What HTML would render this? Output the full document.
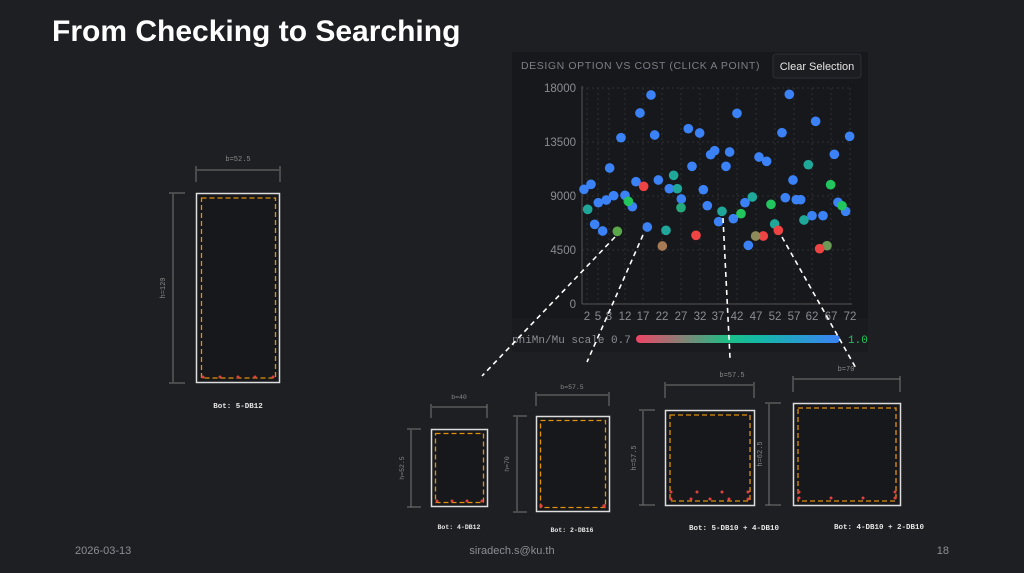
<!DOCTYPE html>
<html><head><meta charset="utf-8"><style>
html,body{margin:0;padding:0;background:#1d1f23;}
body{width:1024px;height:573px;overflow:hidden;position:relative;font-family:"Liberation Sans",sans-serif;}
svg{position:absolute;left:0;top:0;}
</style></head><body>
<svg width="1024" height="573" viewBox="0 0 1024 573" xmlns="http://www.w3.org/2000/svg">
<rect width="1024" height="573" fill="#1d1f23"/>
<text x="52" y="41" fill="#ffffff" font-size="30" font-weight="bold" font-family="Liberation Sans, sans-serif">From Checking to Searching</text>

<rect x="512" y="52" width="356" height="266" fill="#17181c"/>
<rect x="512" y="318" width="356" height="34" fill="#1a1b1f"/>
<text x="521" y="69" fill="#7d7f86" font-size="10.5" letter-spacing="0.6">DESIGN OPTION VS COST (CLICK A POINT)</text>
<rect x="773" y="54" width="88" height="24" rx="3" fill="#1c1d21" stroke="#2c2e33"/>
<text x="817" y="70" fill="#e6e6e6" font-size="11" text-anchor="middle">Clear Selection</text>

<g stroke="#2e3035" stroke-dasharray="2,3" stroke-width="1">
<line x1="582" y1="88" x2="850" y2="88"/><line x1="582" y1="142" x2="850" y2="142"/><line x1="582" y1="196" x2="850" y2="196"/><line x1="582" y1="250" x2="850" y2="250"/>
<line x1="587" y1="88" x2="587" y2="304"/><line x1="598" y1="88" x2="598" y2="304"/><line x1="609" y1="88" x2="609" y2="304"/><line x1="625" y1="88" x2="625" y2="304"/><line x1="643" y1="88" x2="643" y2="304"/><line x1="662" y1="88" x2="662" y2="304"/><line x1="681" y1="88" x2="681" y2="304"/><line x1="700" y1="88" x2="700" y2="304"/><line x1="718" y1="88" x2="718" y2="304"/><line x1="737" y1="88" x2="737" y2="304"/><line x1="756" y1="88" x2="756" y2="304"/><line x1="775" y1="88" x2="775" y2="304"/><line x1="794" y1="88" x2="794" y2="304"/><line x1="812" y1="88" x2="812" y2="304"/><line x1="831" y1="88" x2="831" y2="304"/><line x1="850" y1="88" x2="850" y2="304"/>
</g>
<line x1="582" y1="86" x2="582" y2="304" stroke="#555" />
<line x1="582" y1="304" x2="852" y2="304" stroke="#555" />
<g fill="#8a8c92" font-size="11.5" text-anchor="end">
<text x="576" y="92">18000</text><text x="576" y="146">13500</text><text x="576" y="200">9000</text><text x="576" y="254">4500</text><text x="576" y="308">0</text>
</g>
<g fill="#8a8c92" font-size="11.5" text-anchor="middle">
<text x="587" y="320">2</text><text x="598" y="320">5</text><text x="609" y="320">8</text><text x="625" y="320">12</text><text x="643" y="320">17</text><text x="662" y="320">22</text><text x="681" y="320">27</text><text x="700" y="320">32</text><text x="718" y="320">37</text><text x="737" y="320">42</text><text x="756" y="320">47</text><text x="775" y="320">52</text><text x="794" y="320">57</text><text x="812" y="320">62</text><text x="831" y="320">67</text><text x="850" y="320">72</text>
</g>

<g transform="translate(510,50) scale(0.3333)">
<g fill="#3b82f6">
<circle cx="222" cy="418" r="14.5"/><circle cx="243" cy="403" r="14.5"/><circle cx="265" cy="458" r="14.5"/><circle cx="254" cy="523" r="14.5"/><circle cx="278" cy="543" r="14.5"/><circle cx="289" cy="450" r="14.5"/><circle cx="299" cy="354" r="14.5"/><circle cx="311" cy="437" r="14.5"/><circle cx="333" cy="263" r="14.5"/><circle cx="345" cy="436" r="14.5"/><circle cx="367" cy="470" r="14.5"/><circle cx="378" cy="395" r="14.5"/><circle cx="390" cy="189" r="14.5"/><circle cx="412" cy="531" r="14.5"/><circle cx="423" cy="135" r="14.5"/><circle cx="434" cy="255" r="14.5"/><circle cx="445" cy="390" r="14.5"/><circle cx="478" cy="416" r="14.5"/><circle cx="514" cy="447" r="14.5"/><circle cx="535" cy="236" r="14.5"/><circle cx="546" cy="349" r="14.5"/><circle cx="569" cy="249" r="14.5"/><circle cx="580" cy="419" r="14.5"/><circle cx="592" cy="467" r="14.5"/><circle cx="602" cy="314" r="14.5"/><circle cx="614" cy="302" r="14.5"/><circle cx="626" cy="515" r="14.5"/><circle cx="648" cy="349" r="14.5"/><circle cx="659" cy="306" r="14.5"/><circle cx="670" cy="506" r="14.5"/><circle cx="681" cy="190" r="14.5"/><circle cx="705" cy="458" r="14.5"/><circle cx="715" cy="586" r="14.5"/><circle cx="747" cy="321" r="14.5"/><circle cx="770" cy="334" r="14.5"/><circle cx="816" cy="248" r="14.5"/><circle cx="826" cy="443" r="14.5"/><circle cx="849" cy="390" r="14.5"/><circle cx="859" cy="449" r="14.5"/><circle cx="872" cy="449" r="14.5"/><circle cx="906" cy="497" r="14.5"/><circle cx="917" cy="214" r="14.5"/><circle cx="939" cy="497" r="14.5"/><circle cx="973" cy="313" r="14.5"/><circle cx="984" cy="457" r="14.5"/><circle cx="1007" cy="484" r="14.5"/><circle cx="1019" cy="259" r="14.5"/><circle cx="838" cy="133" r="14.5"/>
</g>
<g fill="#1fa89a">
<circle cx="233" cy="478" r="14.5"/><circle cx="491" cy="376" r="14.5"/><circle cx="502" cy="416" r="14.5"/><circle cx="468" cy="541" r="14.5"/><circle cx="636" cy="484" r="14.5"/><circle cx="727" cy="441" r="14.5"/><circle cx="794" cy="522" r="14.5"/><circle cx="882" cy="510" r="14.5"/><circle cx="895" cy="344" r="14.5"/>
</g>
<circle cx="513" cy="473" r="14.5" fill="#25a87a"/>
<g fill="#22c55e">
<circle cx="355" cy="454" r="14.5"/><circle cx="693" cy="491" r="14.5"/><circle cx="783" cy="463" r="14.5"/><circle cx="962" cy="404" r="14.5"/><circle cx="996" cy="467" r="14.5"/>
</g>
<circle cx="322" cy="544" r="14.5" fill="#5aa84a"/><circle cx="951" cy="587" r="14.5" fill="#6a9a55"/>
<g fill="#ef4444">
<circle cx="401" cy="409" r="14.5"/><circle cx="558" cy="556" r="14.5"/><circle cx="760" cy="558" r="14.5"/><circle cx="805" cy="541" r="14.5"/><circle cx="929" cy="596" r="14.5"/>
</g>
<circle cx="457" cy="588" r="14.5" fill="#a57a55"/><circle cx="737" cy="558" r="14.5" fill="#8f8a5a"/>
</g>

<defs><linearGradient id="cg" x1="0" x2="1"><stop offset="0" stop-color="#ef4466"/><stop offset="0.45" stop-color="#1dbf86"/><stop offset="0.6" stop-color="#14b8a6"/><stop offset="1" stop-color="#3b82f6"/></linearGradient></defs>
<text x="512" y="343" fill="#8a8c92" font-size="11" font-family="Liberation Mono, monospace">phiMn/Mu scale 0.7</text>
<rect x="636" y="335" width="204" height="8" rx="4" fill="url(#cg)"/>
<text x="848" y="343" fill="#22c55e" font-size="11" font-family="Liberation Mono, monospace">1.0</text>

<g stroke="#ffffff" stroke-width="1.6" stroke-dasharray="5,4" fill="none">
<line x1="615" y1="237" x2="482" y2="376"/>
<line x1="643" y1="235" x2="587" y2="362"/>
<line x1="723" y1="218" x2="730" y2="358"/>
<line x1="782" y1="237" x2="857" y2="370"/>
</g>

<g font-family="Liberation Mono, monospace">
<g stroke="#777" stroke-width="1" fill="none">
<line x1="197" y1="170" x2="279" y2="170"/><line x1="196" y1="166" x2="196" y2="182"/><line x1="280" y1="166" x2="280" y2="182"/>
<line x1="173" y1="194" x2="173" y2="382"/><line x1="169" y1="193" x2="185" y2="193"/><line x1="169" y1="383" x2="185" y2="383"/>
</g>
<text x="238" y="161" fill="#888" font-size="7" text-anchor="middle">b=52.5</text>
<text transform="translate(165,288) rotate(-90)" fill="#888" font-size="7" text-anchor="middle">h=120</text>
<rect x="196.5" y="193.5" width="83" height="189" fill="#17181c" stroke="#ddd" stroke-width="1.5"/>
<rect x="201.5" y="198" width="74" height="180" fill="none" stroke="#e0900a" stroke-dasharray="5,3" stroke-width="1.3"/>
<g fill="#e04040"><circle cx="203" cy="377" r="1.5"/><circle cx="220" cy="377" r="1.5"/><circle cx="238" cy="377" r="1.5"/><circle cx="255" cy="377" r="1.5"/><circle cx="273" cy="377" r="1.5"/></g>
<text x="238" y="408" fill="#e6e6e6" font-size="7.5" font-weight="bold" text-anchor="middle">Bot: 5-DB12</text>

<g stroke="#777" fill="none"><line x1="432" y1="407" x2="487" y2="407"/><line x1="431" y1="404" x2="431" y2="418"/><line x1="487" y1="404" x2="487" y2="418"/><line x1="411" y1="430" x2="411" y2="507"/><line x1="407" y1="429" x2="421" y2="429"/><line x1="407" y1="507" x2="421" y2="507"/></g>
<text x="459" y="399" fill="#888" font-size="6.5" text-anchor="middle">b=40</text>
<text transform="translate(404,468) rotate(-90)" fill="#888" font-size="6.5" text-anchor="middle">h=52.5</text>
<rect x="431.5" y="429.5" width="56" height="77" fill="#17181c" stroke="#ddd" stroke-width="1.5"/>
<rect x="435.5" y="433.5" width="48" height="69" fill="none" stroke="#e0900a" stroke-dasharray="5,3" stroke-width="1.3"/>
<g fill="#e04040"><circle cx="437" cy="501" r="1.5"/><circle cx="452" cy="501" r="1.5"/><circle cx="467" cy="501" r="1.5"/><circle cx="482" cy="501" r="1.5"/></g>
<text x="459" y="529" fill="#e6e6e6" font-size="6.5" font-weight="bold" text-anchor="middle">Bot: 4-DB12</text>

<g stroke="#777" fill="none"><line x1="537" y1="395" x2="608" y2="395"/><line x1="536" y1="392" x2="536" y2="406"/><line x1="609" y1="392" x2="609" y2="406"/><line x1="517" y1="417" x2="517" y2="511"/><line x1="513" y1="416" x2="527" y2="416"/><line x1="513" y1="512" x2="527" y2="512"/></g>
<text x="572" y="389" fill="#888" font-size="6.5" text-anchor="middle">b=57.5</text>
<text transform="translate(509,464) rotate(-90)" fill="#888" font-size="6.5" text-anchor="middle">h=70</text>
<rect x="536.5" y="416.5" width="73" height="95" fill="#17181c" stroke="#ddd" stroke-width="1.5"/>
<rect x="540.5" y="420.5" width="65" height="87" fill="none" stroke="#e0900a" stroke-dasharray="5,3" stroke-width="1.3"/>
<g fill="#e04040"><circle cx="541" cy="506" r="1.7"/><circle cx="604" cy="506" r="1.7"/></g>
<text x="572" y="532" fill="#e6e6e6" font-size="6.5" font-weight="bold" text-anchor="middle">Bot: 2-DB16</text>

<g stroke="#777" fill="none"><line x1="666" y1="385" x2="753" y2="385"/><line x1="665" y1="382" x2="665" y2="398"/><line x1="754" y1="382" x2="754" y2="398"/><line x1="643" y1="411" x2="643" y2="505"/><line x1="639" y1="410" x2="655" y2="410"/><line x1="639" y1="505" x2="655" y2="505"/></g>
<text x="732" y="377" fill="#888" font-size="7" text-anchor="middle">b=57.5</text>
<text transform="translate(636,458) rotate(-90)" fill="#888" font-size="7" text-anchor="middle">h=57.5</text>
<rect x="665.5" y="410.5" width="89" height="95" fill="#17181c" stroke="#ddd" stroke-width="1.5"/>
<rect x="670" y="415" width="80" height="86" fill="none" stroke="#e0900a" stroke-dasharray="5,3" stroke-width="1.3"/>
<g fill="#e04040"><circle cx="671" cy="499" r="1.5"/><circle cx="691" cy="499" r="1.5"/><circle cx="710" cy="499" r="1.5"/><circle cx="729" cy="499" r="1.5"/><circle cx="748" cy="499" r="1.5"/><circle cx="671" cy="492" r="1.5"/><circle cx="697" cy="492" r="1.5"/><circle cx="722" cy="492" r="1.5"/><circle cx="748" cy="492" r="1.5"/></g>
<text x="734" y="530" fill="#e6e6e6" font-size="7.5" font-weight="bold" text-anchor="middle">Bot: 5-DB10 + 4-DB10</text>

<g stroke="#777" fill="none"><line x1="794" y1="379" x2="900" y2="379"/><line x1="793" y1="376" x2="793" y2="392"/><line x1="900" y1="376" x2="900" y2="392"/><line x1="769" y1="404" x2="769" y2="505"/><line x1="765" y1="403" x2="781" y2="403"/><line x1="765" y1="505" x2="781" y2="505"/></g>
<text x="846" y="371" fill="#888" font-size="7" text-anchor="middle">b=70</text>
<text transform="translate(762,454) rotate(-90)" fill="#888" font-size="7" text-anchor="middle">h=62.5</text>
<rect x="793.5" y="403.5" width="107" height="102" fill="#17181c" stroke="#ddd" stroke-width="1.5"/>
<rect x="798" y="408" width="98" height="93" fill="none" stroke="#e0900a" stroke-dasharray="5,3" stroke-width="1.3"/>
<g fill="#e04040"><circle cx="799" cy="498" r="1.5"/><circle cx="831" cy="498" r="1.5"/><circle cx="863" cy="498" r="1.5"/><circle cx="895" cy="498" r="1.5"/><circle cx="799" cy="492" r="1.5"/><circle cx="895" cy="492" r="1.5"/></g>
<text x="879" y="529" fill="#e6e6e6" font-size="7.5" font-weight="bold" text-anchor="middle">Bot: 4-DB10 + 2-DB10</text>
</g>

<g fill="#8c8e93" font-size="11">
<text x="75" y="554">2026-03-13</text>
<text x="512" y="554" text-anchor="middle">siradech.s@ku.th</text>
<text x="949" y="554" text-anchor="end">18</text>
</g>
</svg>
</body></html>
